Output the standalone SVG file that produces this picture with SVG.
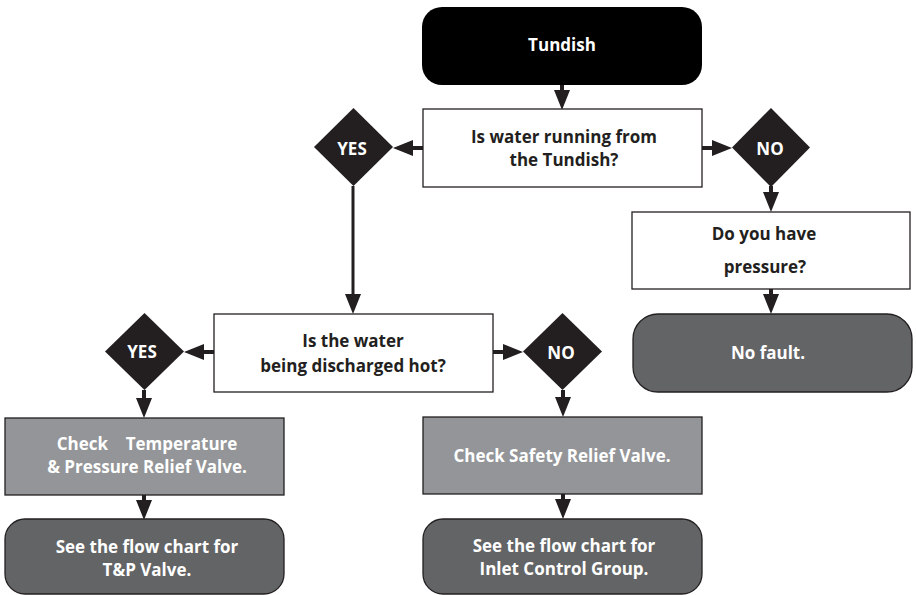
<svg xmlns="http://www.w3.org/2000/svg" width="916" height="595" viewBox="0 0 916 595">
<defs>
<style>
text{font-family:"Open Sans","Liberation Sans",sans-serif;font-weight:700;font-size:17px;text-anchor:middle}
.dk{fill:#231f20}
.wt{fill:#ffffff}
.q{fill:#ffffff;stroke:#231f20;stroke-width:1.3}
.chk{fill:#939598;stroke:#231f20;stroke-width:1.3}
.see{fill:#636466;stroke:#231f20;stroke-width:1.3}
.dia{fill:#231f20}
.c line{stroke:#231f20;stroke-width:4;marker-end:url(#ah)}
</style>
<marker id="ah" viewBox="0 -8 20 16" markerWidth="20" markerHeight="16" refX="0" refY="0" orient="auto" markerUnits="userSpaceOnUse">
<path d="M0,-8 L20,0 L0,8 z" fill="#231f20"/>
</marker>
</defs>
<rect width="916" height="595" fill="#ffffff"/>
<g id="connectors" class="c">
<line x1="562" y1="85" x2="562" y2="90"/>
<line x1="423" y1="148" x2="413" y2="148"/>
<line x1="702" y1="148" x2="712" y2="148"/>
<line x1="771" y1="186" x2="771" y2="192"/>
<line x1="353" y1="186" x2="353" y2="294" style="stroke-width:3"/>
<line x1="771" y1="289" x2="771" y2="294"/>
<line x1="214" y1="352" x2="204" y2="352"/>
<line x1="493" y1="352" x2="503" y2="352"/>
<line x1="144" y1="390" x2="144" y2="398"/>
<line x1="563" y1="390" x2="563" y2="397"/>
<line x1="144" y1="495" x2="144" y2="500"/>
<line x1="563" y1="494" x2="563" y2="499"/>
</g>
<g id="tundish">
<rect x="422" y="7" width="280" height="78" rx="20" fill="#000000"/>
<text class="wt" x="562" y="51">Tundish</text>
</g>
<g id="q1">
<rect class="q" x="423" y="109" width="279" height="78"/>
<text class="dk" x="564" y="143">Is water running from</text>
<text class="dk" x="564" y="166">the Tundish?</text>
</g>
<g id="yes1">
<polygon class="dia" points="353.5,108 393,147 353.5,186 314,147"/>
<text class="wt" x="352" y="155">YES</text>
</g>
<g id="no1">
<polygon class="dia" points="771,108 810,147.5 771,187 732,147.5"/>
<text class="wt" x="770" y="155">NO</text>
</g>
<g id="pressure">
<rect class="q" x="632" y="212" width="278" height="77"/>
<text class="dk" x="764" y="240">Do you have</text>
<text class="dk" x="765" y="273">pressure?</text>
</g>
<g id="nofault">
<rect class="see" x="633" y="314" width="279" height="78" rx="25"/>
<text class="wt" x="768" y="359">No fault.</text>
</g>
<g id="q2">
<rect class="q" x="214" y="314" width="279" height="78"/>
<text class="dk" x="353" y="347">Is the water</text>
<text class="dk" x="353" y="372">being discharged hot?</text>
</g>
<g id="yes2">
<polygon class="dia" points="144.5,313 184,351.5 144.5,390 105,351.5"/>
<text class="wt" x="142" y="358">YES</text>
</g>
<g id="no2">
<polygon class="dia" points="562.5,313 602,351.5 562.5,390 523,351.5"/>
<text class="wt" x="561" y="359">NO</text>
</g>
<g id="checktp">
<rect class="chk" x="5" y="418" width="279" height="77"/>
<text class="wt" x="147" y="450" xml:space="preserve" style="white-space:pre">Check    Temperature</text>
<text class="wt" x="147" y="473">&amp; Pressure Relief Valve.</text>
</g>
<g id="seetp">
<rect class="see" x="5" y="519" width="279" height="75" rx="20"/>
<text class="wt" x="147" y="553">See the flow chart for</text>
<text class="wt" x="147" y="576">T&amp;P Valve.</text>
</g>
<g id="checksafety">
<rect class="chk" x="423" y="417" width="279" height="77"/>
<text class="wt" x="562" y="462">Check Safety Relief Valve.</text>
</g>
<g id="seeinlet">
<rect class="see" x="423" y="519" width="279" height="75" rx="20"/>
<text class="wt" x="564" y="552">See the flow chart for</text>
<text class="wt" x="564" y="575">Inlet Control Group.</text>
</g>
</svg>
